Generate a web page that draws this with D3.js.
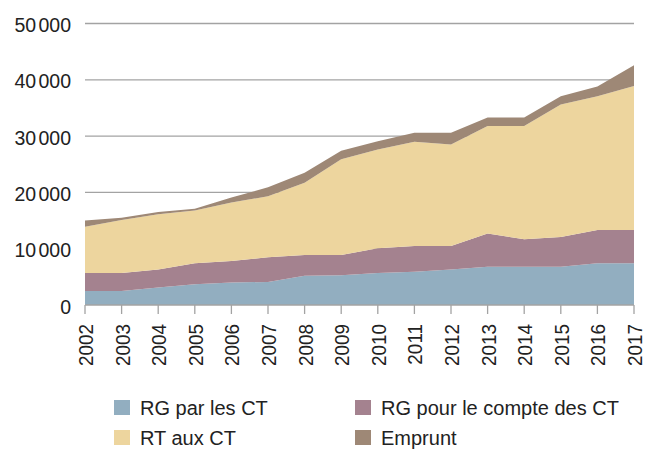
<!DOCTYPE html>
<html>
<head>
<meta charset="utf-8">
<script src="https://cdn.jsdelivr.net/npm/d3@7"></script>
<style>
  body { margin: 0; background: #fff; }
  svg { display: block; }
  text { font-family: "Liberation Sans", Arial, sans-serif; fill: #222; }
</style>
</head>
<body>
<svg id="chart" width="652" height="452"></svg>
<script>
// data
const years = [2002, 2003, 2004, 2005, 2006, 2007, 2008, 2009, 2010, 2011, 2012, 2013, 2014, 2015, 2016, 2017];
const rgParCT = [2500, 2500, 3100, 3700, 4000, 4100, 5200, 5300, 5700, 5900, 6300, 6800, 6800, 6800, 7400, 7400];
const rgPourCT = [3200, 3200, 3200, 3700, 3800, 4400, 3700, 3600, 4400, 4600, 4200, 5900, 4900, 5300, 5900, 5900];
const rtAuxCT = [8200, 9400, 9800, 9400, 10400, 10800, 12800, 17000, 17500, 18500, 18000, 19100, 20100, 23500, 23800, 25600];
const emprunt = [1100, 400, 400, 300, 900, 1600, 1800, 1500, 1500, 1600, 2100, 1500, 1500, 1500, 1700, 3700];
const yTicks = [0, 10000, 20000, 30000, 40000, 50000];
const seriesNames = ["RG par les CT", "RG pour le compte des CT", "RT aux CT", "Emprunt"];
const colors = ["#92aec0", "#a4828f", "#edd59e", "#9e8876"];

const svg = d3.select("#chart");
const x = d3.scaleLinear().domain([2002, 2017]).range([85, 634]);
const y = d3.scaleLinear().domain([0, 50000]).range([305, 23.5]);

const rows = years.map((yr, i) => ({ year: yr, a: rgParCT[i], b: rgPourCT[i], c: rtAuxCT[i], d: emprunt[i] }));
const layers = d3.stack().keys(["a", "b", "c", "d"])(rows);

// gridlines
svg.append("g").selectAll("line").data(yTicks.filter(t => t > 0)).enter().append("line")
    .attr("x1", 85).attr("x2", 634)
    .attr("y1", d => y(d)).attr("y2", d => y(d))
    .style("stroke", "#a3a3a3").style("stroke-width", 1.3);

const area = d3.area()
    .x(d => x(d.data.year))
    .y0(d => y(d[0]))
    .y1(d => y(d[1]));

svg.append("g").selectAll("path").data(layers).enter().append("path")
    .attr("d", area)
    .style("fill", (d, i) => colors[i]);

// y labels: "50 000" with a narrow gap
const yLab = svg.append("g").selectAll("text").data(yTicks).enter().append("text")
    .attr("transform", d => `translate(71,${y(d) + 1}) scale(0.93,1)`)
    .attr("dy", "0.36em")
    .attr("text-anchor", "end")
    .style("font-size", "21px");
yLab.append("tspan").text(d => d === 0 ? "0" : String(d).slice(0, -3));
yLab.filter(d => d > 0).append("tspan").attr("dx", 2.5).text(d => String(d).slice(-3));

// x axis
const xAxis = svg.append("g").attr("transform", "translate(0,305)");
xAxis.append("line").attr("x1", 85).attr("x2", 634)
    .style("stroke", "#a3a3a3").style("stroke-width", 1.3);
xAxis.selectAll(".tick").data(years).enter().append("line")
    .attr("x1", d => x(d)).attr("x2", d => x(d))
    .attr("y1", 0).attr("y2", 9)
    .style("stroke", "#a3a3a3").style("stroke-width", 1.3);
xAxis.selectAll("text").data(years).enter().append("text")
    .attr("transform", d => `translate(${x(d) + 0.5},19) rotate(-90) scale(0.9,1)`)
    .attr("dy", "0.36em")
    .attr("text-anchor", "end")
    .style("font-size", "21px")
    .text(d => d);

// legend
const legendPos = [[114, 407.5], [355, 407.5], [114, 437.5], [355, 437.5]];
const leg = svg.append("g").selectAll("g").data([0, 1, 2, 3]).enter().append("g")
    .attr("transform", (d, i) => `translate(${legendPos[i][0]},${legendPos[i][1]})`);
leg.append("rect").attr("x", 0).attr("y", -7.5).attr("width", 16).attr("height", 15)
    .style("fill", d => colors[d]);
leg.append("text").attr("x", 26).attr("dy", "0.36em")
    .style("font-size", "20px")
    .text(d => seriesNames[d]);
</script>
</body>
</html>
